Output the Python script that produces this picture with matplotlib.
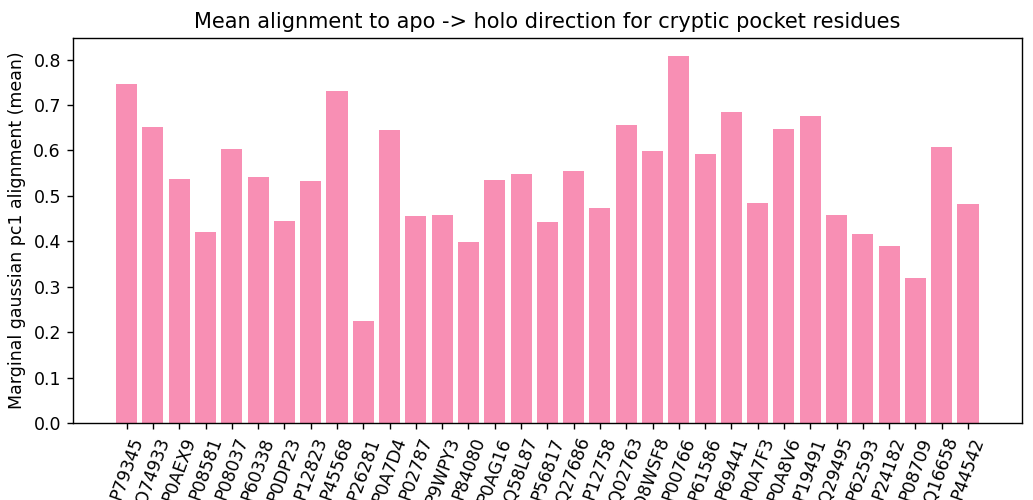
import matplotlib
matplotlib.use("Agg")
import matplotlib.pyplot as plt

# uniprot ids of the proteins
proteins = ["P79345", "O74933", "P0AEX9", "P08581", "P08037", "P60338", "P0DP23",
            "P12823", "P45568", "P26281", "P0A7D4", "P02787", "P9WPY3", "P84080",
            "P0AG16", "Q58L87", "P56817", "Q27686", "P12758", "Q02763", "Q8WSF8",
            "P00766", "P61586", "P69441", "P0A7F3", "P0A8V6", "P19491", "Q29495",
            "P62593", "P24182", "P08709", "Q16658", "P44542"]

# mean pc1 alignment per protein
alignment = [0.747, 0.651, 0.536, 0.420, 0.604, 0.541, 0.444,
             0.532, 0.730, 0.224, 0.644, 0.455, 0.457, 0.398,
             0.534, 0.549, 0.442, 0.554, 0.473, 0.655, 0.598,
             0.807, 0.591, 0.684, 0.484, 0.646, 0.675, 0.457,
             0.415, 0.389, 0.319, 0.607, 0.481]

# 1033x500 px, drawn at a higher dpi so the text comes out bigger
fig, ax = plt.subplots(figsize=(1033 / 125, 4), dpi=125)
ax.bar(proteins, alignment, color="#f88fb4")
ax.set_title("Mean alignment to apo -> holo direction for cryptic pocket residues")
ax.set_ylabel("Marginal gaussian pc1 alignment (mean)")
plt.xticks(rotation=70)
plt.subplots_adjust(left=0.0707, right=0.989, top=0.924, bottom=0.154)

fig.savefig("out.png")
